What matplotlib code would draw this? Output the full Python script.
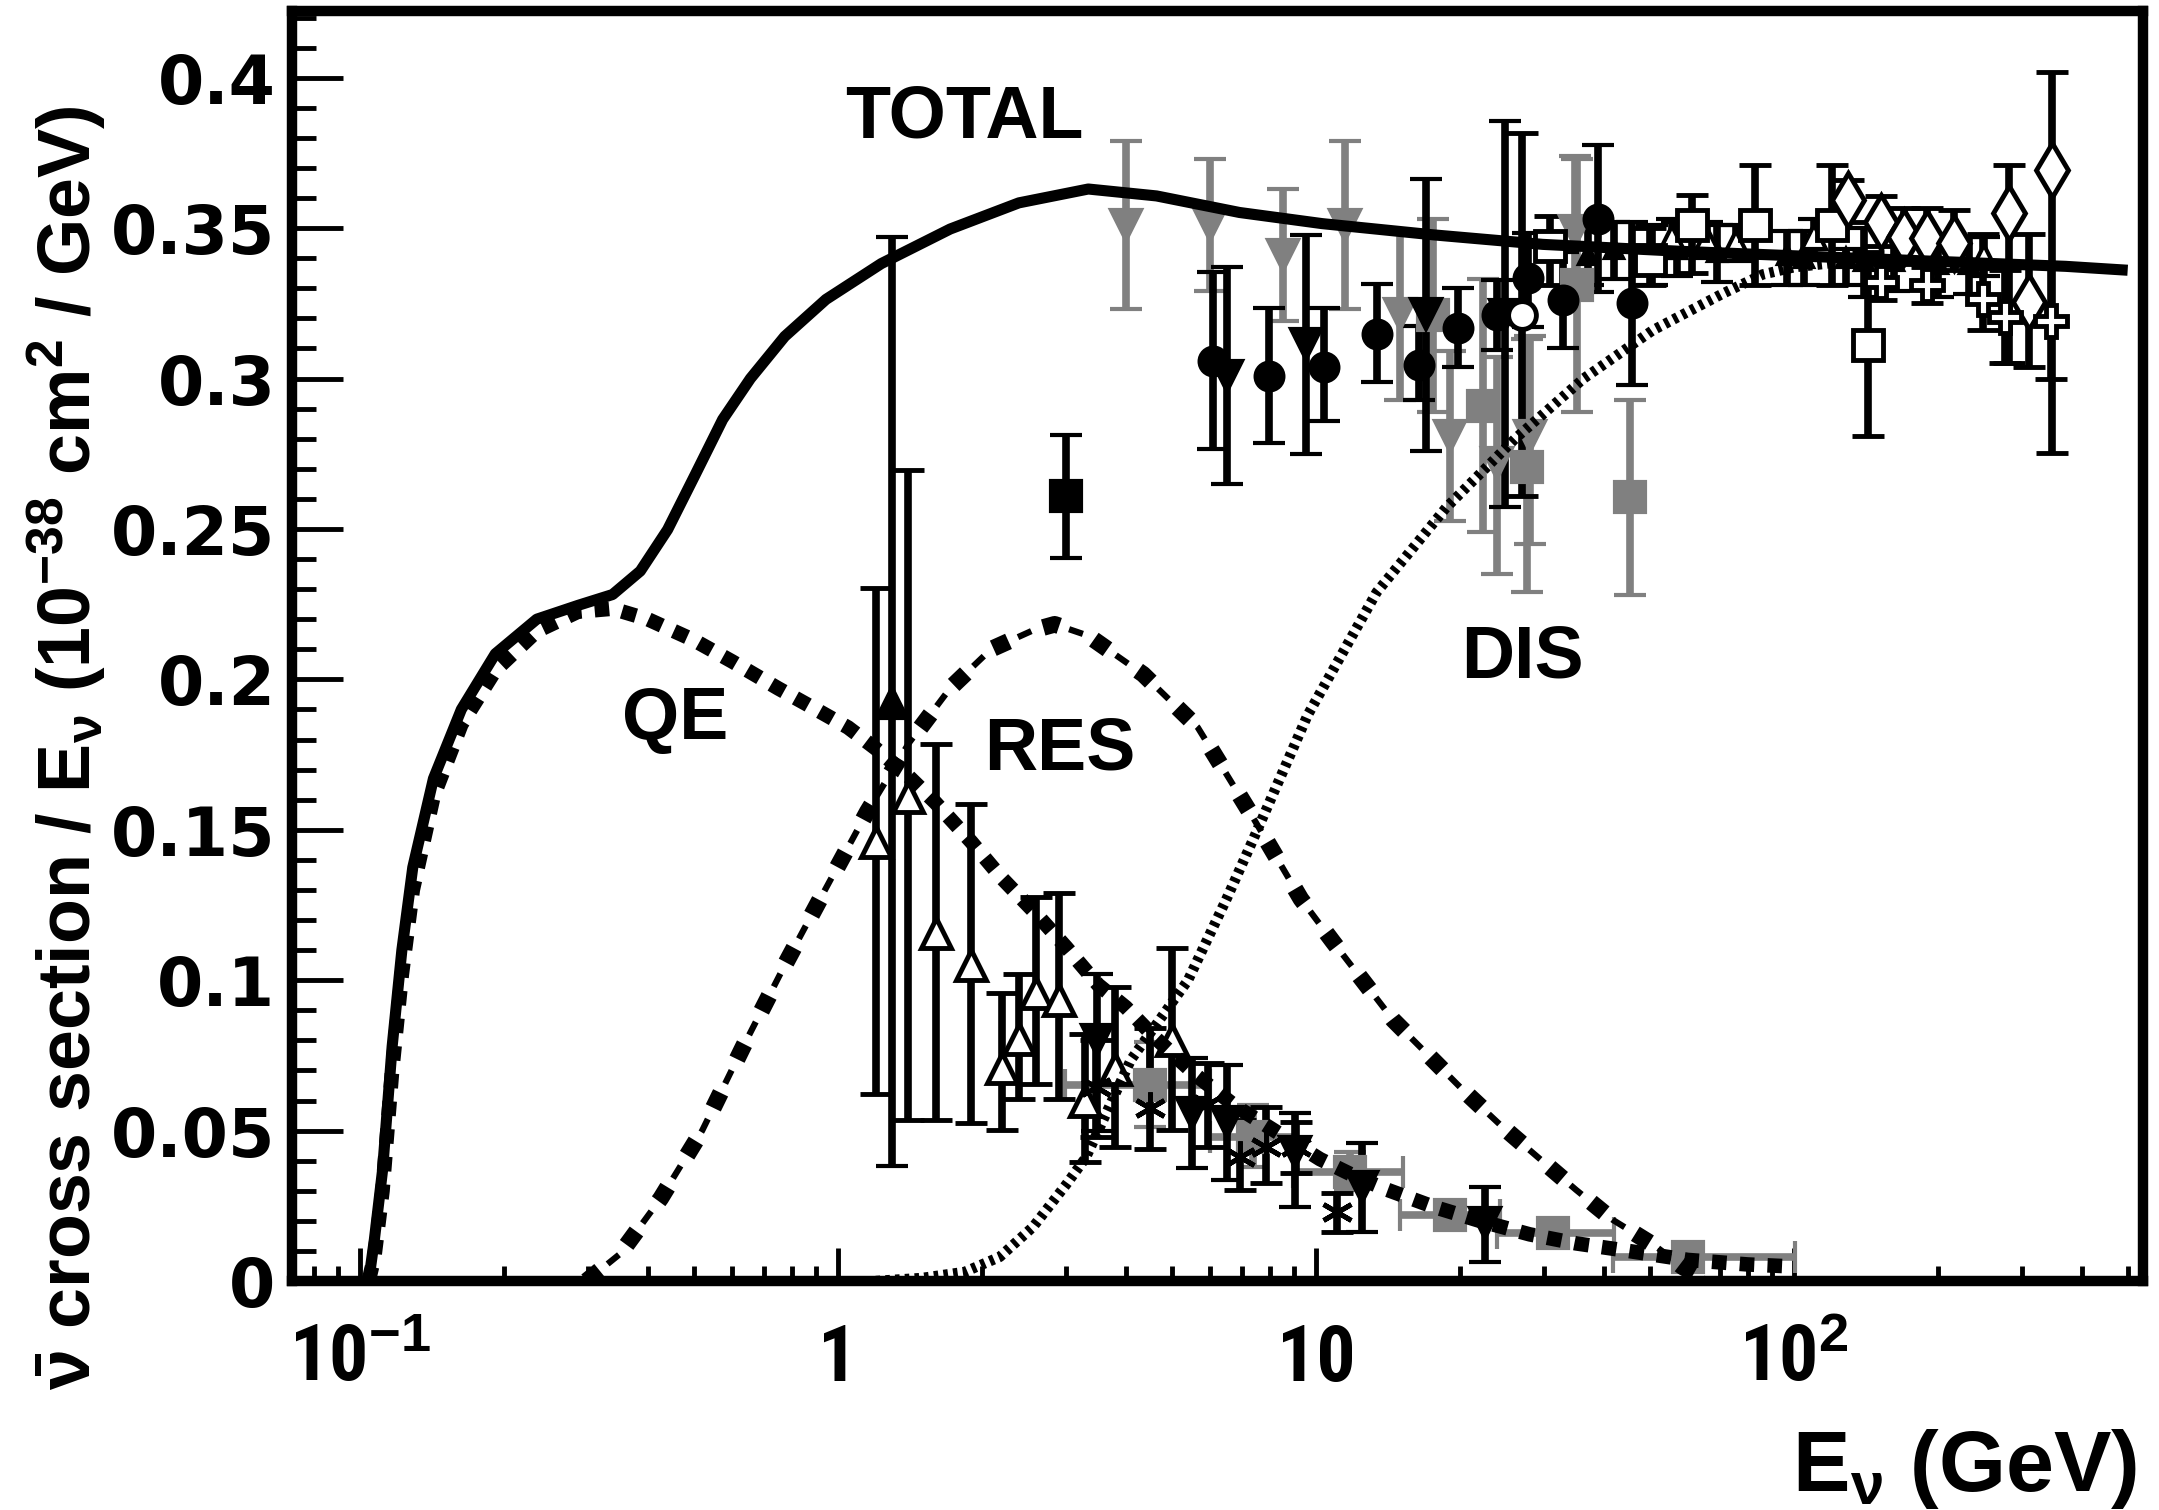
import numpy as np
import matplotlib
matplotlib.use("Agg")
import matplotlib.pyplot as plt
import matplotlib.ticker as mticker
import matplotlib.transforms as mtransforms
from matplotlib import font_manager as fm

# ---------------------------------------------------------------- data
# model curves (E in GeV, sigma/E in 1e-38 cm^2/GeV)
total_E = [0.1043, 0.1072, 0.1115, 0.1168, 0.1224, 0.129, 0.1425, 0.163, 0.192, 0.2344, 0.286,
           0.3377, 0.386, 0.4403, 0.5027, 0.574, 0.656, 0.774, 0.944, 1.232, 1.717, 2.391,
           3.34, 4.64, 6.92, 10.3, 17.5, 29.8, 57.8, 112.0, 218.0, 370.0, 499.0]
total_v = [0.0, 0.0137, 0.0367, 0.078, 0.110, 0.1375, 0.167, 0.190, 0.2085, 0.220, 0.2246,
           0.2282, 0.236, 0.2498, 0.268, 0.2864, 0.300, 0.314, 0.3263, 0.3382, 0.3497, 0.3584,
           0.363, 0.3607, 0.3552, 0.3515, 0.3478, 0.3446, 0.3423, 0.3405, 0.3387, 0.3373, 0.3360]

qe_E = [0.1043, 0.1072, 0.1115, 0.1168, 0.1224, 0.129, 0.1425, 0.163, 0.192, 0.2344, 0.286,
        0.3377, 0.40, 0.50, 0.60, 0.75, 0.9, 1.05, 1.2, 1.4, 1.6, 1.9, 2.2, 2.6, 3.0, 3.5, 4.0,
        4.6, 5.6, 6.8, 8.0, 10.2, 12.0, 14.0, 17.6, 22.0, 28.0, 35.0, 45.0, 60.0, 80.0, 100.0]
qe_v = [0.0, 0.008, 0.030, 0.070, 0.102, 0.130, 0.161, 0.185, 0.203, 0.216, 0.2225, 0.2235,
        0.220, 0.213, 0.206, 0.197, 0.190, 0.184, 0.177, 0.168, 0.159, 0.146, 0.134, 0.122,
        0.111, 0.0985, 0.091, 0.081, 0.0685, 0.058, 0.051, 0.0405, 0.035, 0.0305, 0.0247,
        0.020, 0.0155, 0.0125, 0.0100, 0.0070, 0.0055, 0.0048]

res_E = [0.298, 0.35, 0.426, 0.52, 0.634, 0.774, 0.944, 1.152, 1.41, 1.716, 2.09, 2.56, 2.84,
         3.34, 4.35, 5.66, 7.3, 9.3, 10.85, 14.5, 17.3, 20.3, 24.3, 29.1, 35.0, 41.8, 51.5,
         58.5, 66.0]
res_v = [0.0, 0.009, 0.0275, 0.050, 0.078, 0.105, 0.1306, 0.156, 0.179, 0.197, 0.210, 0.2163,
         0.2183, 0.2145, 0.2017, 0.184, 0.1554, 0.127, 0.1128, 0.0868, 0.0746, 0.0635, 0.0519,
         0.0412, 0.0303, 0.0203, 0.0114, 0.0047, 0.0]

dis_E = [1.2, 1.5, 1.84, 2.18, 2.56, 3.0, 3.3, 4.1, 5.4, 6.5, 7.4, 9.6, 13.4, 18.7, 26.1, 36.3,
         50.6, 70.5, 86.0, 100.0, 130.0]
dis_v = [0.0, 0.001, 0.003, 0.008, 0.018, 0.032, 0.041, 0.0735, 0.100, 0.127, 0.147, 0.188,
         0.229, 0.257, 0.280, 0.300, 0.316, 0.328, 0.3346, 0.337, 0.339]

# measurements: energy, value, lower and upper end of error bar
otri_E = [1.20, 1.40, 1.60, 1.895, 2.20, 2.395, 2.60, 2.90, 3.29, 3.80, 5.01]
otri_v = [0.146, 0.161, 0.1157, 0.1052, 0.0709, 0.0805, 0.0957, 0.0933, 0.0598, 0.0705, 0.080]
otri_lo = [0.0622, 0.0535, 0.0535, 0.0525, 0.0502, 0.0605, 0.0655, 0.0605, 0.0397, 0.0446, 0.0502]
otri_hi = [0.2304, 0.2695, 0.1785, 0.1586, 0.0957, 0.102, 0.1275, 0.129, 0.082, 0.0977, 0.1107]

ftri_E = [1.30]
ftri_v = [0.192]
ftri_lo = [0.0382]
ftri_hi = [0.347]

dtri_lowE_E = [3.48, 5.5, 6.5, 9.03, 12.46, 22.6]
dtri_lowE_v = [0.080, 0.0557, 0.053, 0.043, 0.0313, 0.0193]
dtri_lowE_lo = [0.050, 0.0375, 0.0336, 0.0246, 0.0163, 0.0063]
dtri_lowE_hi = [0.102, 0.0741, 0.0718, 0.0558, 0.0459, 0.0313]

star_E = [3.47, 4.49, 5.95, 6.93, 7.88, 9.1, 11.05]
star_v = [0.0646, 0.0575, 0.059, 0.0413, 0.0446, 0.0445, 0.023]
star_lo = [0.048, 0.044, 0.0446, 0.0303, 0.0326, 0.036, 0.0163]
star_hi = [0.080, 0.084, 0.0725, 0.0535, 0.0578, 0.053, 0.0293]

gsq_lowE_E = [4.49, 7.40, 11.78, 19.05, 31.4, 60.1]
gsq_lowE_v = [0.0652, 0.048, 0.0362, 0.022, 0.0159, 0.0081]
gsq_lowE_lo = [0.0513, 0.038, 0.0303, 0.019, 0.013, 0.006]
gsq_lowE_hi = [0.0796, 0.0585, 0.043, 0.025, 0.019, 0.010]
gsq_lowE_Elo = [2.98, 6.0, 8.95, 15.0, 23.9, 41.8]
gsq_lowE_Ehi = [6.0, 9.03, 15.2, 24.3, 42.0, 100.6]

gtri_E = [4.00, 6.0, 8.52, 11.5, 15.0, 19.05, 23.9, 28.0, 34.8]
gtri_v = [0.351, 0.351, 0.341, 0.351, 0.3215, 0.281, 0.272, 0.281, 0.349]
gtri_lo = [0.323, 0.329, 0.319, 0.323, 0.293, 0.2527, 0.235, 0.245, 0.330]
gtri_hi = [0.379, 0.373, 0.363, 0.379, 0.349, 0.309, 0.307, 0.314, 0.374]

gsq_E = [17.6, 22.4, 27.6, 35.2, 45.3]
gsq_v = [0.321, 0.291, 0.2707, 0.331, 0.2607]
gsq_lo = [0.289, 0.249, 0.229, 0.289, 0.228]
gsq_hi = [0.353, 0.333, 0.313, 0.373, 0.293]

circ_E = [6.08, 7.97, 10.4, 13.4, 16.4, 19.8, 23.9, 27.8, 32.9, 38.96, 45.8]
circ_v = [0.3058, 0.301, 0.304, 0.3148, 0.3045, 0.3168, 0.3211, 0.3333, 0.326, 0.353, 0.325]
circ_lo = [0.2766, 0.2786, 0.286, 0.2989, 0.2929, 0.3039, 0.3095, 0.3172, 0.310, 0.3289, 0.298]
circ_hi = [0.3354, 0.3235, 0.3235, 0.3314, 0.3175, 0.330, 0.3328, 0.3484, 0.342, 0.3777, 0.352]

dtri_E = [6.50, 9.53, 17.0, 24.9]
dtri_v = [0.301, 0.3116, 0.3215, 0.321]
dtri_lo = [0.265, 0.275, 0.276, 0.2573]
dtri_hi = [0.3372, 0.3477, 0.3664, 0.3856]

ocirc_E = [27.0]
ocirc_v = [0.321]
ocirc_lo = [0.261]
ocirc_hi = [0.3816]

bsq_E = [3.0]
bsq_v = [0.2608]
bsq_lo = [0.2404]
bsq_hi = [0.2812]

osq_E = [30.9, 50.0, 61.1, 82.8, 119.9, 143.1]
osq_v = [0.3439, 0.3394, 0.351, 0.351, 0.351, 0.311]
osq_lo = [0.331, 0.331, 0.335, 0.331, 0.331, 0.281]
osq_hi = [0.354, 0.350, 0.361, 0.371, 0.371, 0.342]

odia_E = [130.0, 152.0, 170.0, 190.0, 216.0, 282.0, 310.0, 346.0]
odia_v = [0.3594, 0.352, 0.347, 0.3466, 0.345, 0.355, 0.3256, 0.3693]
odia_lo = [0.352, 0.344, 0.338, 0.338, 0.336, 0.3052, 0.304, 0.2753]
odia_hi = [0.366, 0.3606, 0.3567, 0.3567, 0.356, 0.371, 0.348, 0.402]

ocross_E = [152.0, 190.0, 248.0, 276.0, 345.0]
ocross_v = [0.332, 0.331, 0.3265, 0.3205, 0.319]
ocross_lo = [0.326, 0.325, 0.316, 0.305, 0.300]
ocross_hi = [0.338, 0.337, 0.348, 0.336, 0.338]

osmtri_E = [55.6, 65.8, 75.6, 110.3, 250.0]
osmtri_v = [0.3467, 0.346, 0.345, 0.347, 0.3405]
osmtri_lo = [0.340, 0.340, 0.339, 0.341, 0.334]
osmtri_hi = [0.353, 0.352, 0.351, 0.353, 0.347]

bsmtri_E = [37.0, 42.0, 50.4, 57.0, 69.0, 96.6, 105.0, 128.6, 140.0, 162.0, 200.0, 232.0]
bsmtri_v = [0.341, 0.343, 0.342, 0.343, 0.342, 0.341, 0.340, 0.340, 0.339, 0.339, 0.338, 0.338]
bsmtri_lo = [0.331, 0.333, 0.331, 0.334, 0.332, 0.331, 0.331, 0.331, 0.327, 0.329, 0.327, 0.328]
bsmtri_hi = [0.351, 0.352, 0.351, 0.352, 0.351, 0.349, 0.349, 0.343, 0.350, 0.349, 0.348, 0.347]

xtick_pos = [0.1, 1.0, 10.0, 100.0]
xtick_lab = [r"10$^{-1}$", "1", "10", r"10$^{2}$"]
ytick_pos = [0.0, 0.05, 0.1, 0.15, 0.2, 0.25, 0.3, 0.35, 0.4]
ytick_lab = ["0", "0.05", "0.1", "0.15", "0.2", "0.25", "0.3", "0.35", "0.4"]

# ---------------------------------------------------------------- fonts
names = {f.name for f in fm.fontManager.ttflist}


def pick(cands):
    for c in cands:
        if c in names:
            return c
    return "DejaVu Sans"


SANS = pick(["Liberation Sans", "Arial", "Helvetica"])
NARROW = pick(["Liberation Sans Narrow", "Arial Narrow", "Roboto Condensed", SANS])

plt.rcParams["font.family"] = [SANS, "DejaVu Sans"]
plt.rcParams["font.weight"] = "bold"
plt.rcParams["mathtext.fontset"] = "custom"
plt.rcParams["mathtext.rm"] = SANS + ":bold"
plt.rcParams["mathtext.it"] = SANS + ":bold"
plt.rcParams["mathtext.bf"] = SANS + ":bold"
plt.rcParams["mathtext.sf"] = SANS + ":bold"
plt.rcParams["lines.scale_dashes"] = False

GRAY = "#808080"

# ---------------------------------------------------------------- figure
fig = plt.figure(figsize=(21.59, 15.10), dpi=100)
ax = fig.add_axes([0.13525, 0.15166, 0.8573, 0.8411])
ax.set_xscale("log")
ax.set_xlim(0.0721, 537)
ax.set_ylim(0, 0.4222)

for s in ax.spines.values():
    s.set_linewidth(7.5)

ax.xaxis.set_major_locator(mticker.FixedLocator(xtick_pos))
ax.xaxis.set_minor_locator(mticker.LogLocator(base=10, subs=np.arange(2, 10), numticks=50))
ax.xaxis.set_minor_formatter(mticker.NullFormatter())
ax.yaxis.set_major_locator(mticker.FixedLocator(ytick_pos))
ax.yaxis.set_minor_locator(mticker.MultipleLocator(0.01))
ax.yaxis.set_major_formatter(mticker.FixedFormatter(ytick_lab))
ax.tick_params(axis="both", which="both", direction="in", top=False, right=False, width=3.5)
ax.tick_params(axis="x", which="major", length=24, labelbottom=False)
ax.tick_params(axis="x", which="minor", length=10.5)
ax.tick_params(axis="y", which="major", length=37, pad=12, labelsize=48)
ax.tick_params(axis="y", which="minor", length=17)
for lab in ax.get_yticklabels():
    lab.set_fontfamily("DejaVu Sans")
    lab.set_fontweight("bold")

# x tick labels as text at the tick positions (common baseline)
xtrans = mtransforms.blended_transform_factory(ax.transData, ax.transAxes)
for p, t in zip(xtick_pos, xtick_lab):
    ax.text(p, -0.079, t, transform=xtrans, ha="center", va="baseline",
            fontsize=56, fontweight="bold", family=[NARROW, "DejaVu Sans"])


# ---------------------------------------------------------------- data points
def draw(E, v, lo, hi, marker, ms, mfc, mec, ecol, mew=3.0, Elo=None, Ehi=None, z=3):
    E = np.asarray(E, float)
    v = np.asarray(v, float)
    yerr = np.vstack([v - np.asarray(lo), np.asarray(hi) - v])
    xerr = None
    if Elo is not None:
        xerr = np.vstack([E - np.asarray(Elo), np.asarray(Ehi) - E])
    ax.errorbar(E, v, yerr=yerr, xerr=xerr, marker=marker, linestyle="none", ms=ms,
                mfc=mfc, mec=mec, mew=mew, ecolor=ecol, elinewidth=5.5, capsize=11.5,
                capthick=5, zorder=z)


draw(gsq_lowE_E, gsq_lowE_v, gsq_lowE_lo, gsq_lowE_hi, "s", 21, GRAY, GRAY, GRAY,
     Elo=gsq_lowE_Elo, Ehi=gsq_lowE_Ehi, z=3)
draw(otri_E, otri_v, otri_lo, otri_hi, "^", 22, "white", "black", "black", mew=3.5, z=3)
draw(ftri_E, ftri_v, ftri_lo, ftri_hi, "^", 21, "black", "black", "black", z=3)
draw(dtri_lowE_E, dtri_lowE_v, dtri_lowE_lo, dtri_lowE_hi, "v", 21, "black", "black", "black", z=3)
draw(star_E, star_v, star_lo, star_hi, (6, 2, 0), 23, "black", "black", "black", mew=3.5, z=3)
draw(gtri_E, gtri_v, gtri_lo, gtri_hi, "v", 21, GRAY, GRAY, GRAY, z=3)
draw(gsq_E, gsq_v, gsq_lo, gsq_hi, "s", 21, GRAY, GRAY, GRAY, z=3)
draw(circ_E, circ_v, circ_lo, circ_hi, "o", 20, "black", "black", "black", z=3)
draw(dtri_E, dtri_v, dtri_lo, dtri_hi, "v", 21, "black", "black", "black", z=3)
draw(ocirc_E, ocirc_v, ocirc_lo, ocirc_hi, "o", 20, "white", "black", "black", mew=3.5, z=3)
draw(bsq_E, bsq_v, bsq_lo, bsq_hi, "s", 21, "black", "black", "black", z=3)
draw(bsmtri_E, bsmtri_v, bsmtri_lo, bsmtri_hi, "^", 13, "black", "black", "black", z=3)
draw(osmtri_E, osmtri_v, osmtri_lo, osmtri_hi, "^", 17, "white", "black", "black", z=3)
draw(osq_E, osq_v, osq_lo, osq_hi, "s", 21, "white", "black", "black", mew=3.5, z=3)
draw(odia_E, odia_v, odia_lo, odia_hi, "d", 27, "white", "black", "black", mew=3.5, z=3)
draw(ocross_E, ocross_v, ocross_lo, ocross_hi, "P", 23, "white", "black", "black", mew=3.5, z=3)

# ---------------------------------------------------------------- model curves
ax.plot(dis_E, dis_v, color="black", lw=7.5, ls=(0, (3.3, 3.7)), zorder=5)
ax.plot(res_E, res_v, color="black", lw=12.0, ls=(0, (12.0, 27.0)), zorder=5)
ax.plot(res_E, res_v, color="black", lw=4.5, ls=(19.5, (10.5, 28.5)), zorder=5)
ax.plot(qe_E, qe_v, color="black", lw=10.5, ls=(0, (10.5, 9.5)), zorder=5)
ax.plot(total_E, total_v, color="black", lw=8.0, zorder=6, solid_capstyle="butt",
        solid_joinstyle="round")

# ---------------------------------------------------------------- labels
ax.text(0.363, 0.900, "TOTAL", transform=ax.transAxes, ha="center", va="baseline",
        fontsize=53, fontweight="bold")
ax.text(0.207, 0.4268, "QE", transform=ax.transAxes, ha="center", va="baseline",
        fontsize=53, fontweight="bold")
ax.text(0.415, 0.4016, "RES", transform=ax.transAxes, ha="center", va="baseline",
        fontsize=53, fontweight="bold")
ax.text(0.665, 0.474, "DIS", transform=ax.transAxes, ha="center", va="baseline",
        fontsize=53, fontweight="bold")

fig.text(0.031, 0.5046,
         r"$\bar{\nu}$ cross section / E$_{\nu}$ (10$^{-38}$ cm$^{2}$ / GeV)",
         rotation=90, ha="center", va="center", fontsize=53, fontweight="bold")
fig.text(0.9898, 0.0126, r"E$_{\nu}$ (GeV)", ha="right", va="baseline",
         fontsize=62, fontweight="bold")

fig.savefig("out.png", dpi=100)
